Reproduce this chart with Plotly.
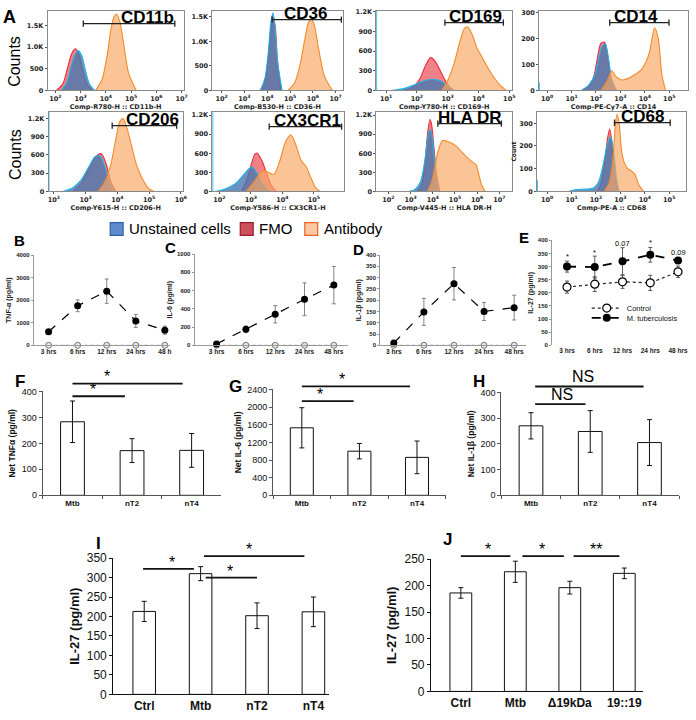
import plotly.graph_objects as go

W, H = 696, 720
ARIAL = "Arial, 'Liberation Sans', sans-serif"
DEJAVU = "'DejaVu Sans', sans-serif"

# ---------------- Panel A: flow cytometry histograms (x = log10 intensity, y = counts) ----------------
cd11b_fmo_x = [2.05, 2.3, 2.5, 2.65, 2.8, 2.95, 3.1, 3.25, 3.45]
cd11b_fmo_y = [0, 150, 550, 850, 960, 800, 450, 150, 0]
cd11b_unst_x = [2.25, 2.45, 2.65, 2.8, 2.92, 3.05, 3.2, 3.35, 3.55]
cd11b_unst_y = [0, 180, 600, 850, 920, 800, 450, 150, 0]
cd11b_ab_x = [3.6, 3.85, 4.05, 4.2, 4.32, 4.42, 4.55, 4.7, 4.9, 5.2]
cd11b_ab_y = [0, 250, 800, 1400, 1700, 1770, 1600, 1100, 400, 0]

cd36_fmo_x = [3.7, 3.9, 4.05, 4.15, 4.25, 4.35, 4.45, 4.6]
cd36_fmo_y = [0, 200, 700, 1200, 1500, 1300, 600, 0]
cd36_unst_x = [3.7, 3.9, 4.05, 4.15, 4.25, 4.33, 4.45, 4.65]
cd36_unst_y = [0, 250, 800, 1350, 1580, 1350, 600, 0]
cd36_ab_x = [4.9, 5.2, 5.45, 5.65, 5.8, 5.92, 6.05, 6.25, 6.5, 6.85]
cd36_ab_y = [0, 150, 550, 1050, 1380, 1450, 1350, 850, 300, 0]

cd169_fmo_x = [1.6, 1.9, 2.1, 2.3, 2.45, 2.6, 2.8, 3.0, 3.2]
cd169_fmo_y = [0, 60, 180, 400, 500, 440, 260, 90, 0]
cd169_unst_x = [1.2, 1.6, 1.9, 2.2, 2.5, 2.8, 3.0, 3.2]
cd169_unst_y = [0, 30, 80, 140, 170, 140, 70, 0]
cd169_ab_x = [2.8, 3.0, 3.2, 3.4, 3.55, 3.65, 3.8, 3.95, 4.1, 4.3, 4.5, 4.7, 4.9]
cd169_ab_y = [0, 150, 400, 750, 950, 970, 850, 650, 520, 350, 200, 80, 0]
cd169_unst_edge = 1215

cd14_fmo_x = [1.45, 1.7, 1.9, 2.05, 2.2, 2.35, 2.5, 2.65, 2.8]
cd14_fmo_y = [0, 15, 50, 120, 180, 185, 120, 30, 0]
cd14_unst_x = [1.4, 1.7, 1.95, 2.1, 2.25, 2.38, 2.5, 2.65, 2.85]
cd14_unst_y = [0, 20, 60, 120, 170, 180, 130, 40, 0]
cd14_ab_x = [2.2, 2.45, 2.65, 2.8, 3.05, 3.3, 3.58, 3.86, 4.05, 4.2, 4.4, 4.55, 4.7, 4.85]
cd14_ab_y = [0, 35, 75, 55, 40, 45, 60, 80, 110, 150, 240, 200, 60, 0]
cd14_unst_edge = 30

cd206_fmo_x = [2.6, 2.85, 3.1, 3.3, 3.5, 3.65, 3.8, 3.95]
cd206_fmo_y = [0, 120, 360, 560, 620, 450, 150, 0]
cd206_unst_x = [2.3, 2.6, 2.85, 3.1, 3.3, 3.45, 3.6, 3.75, 3.9]
cd206_unst_y = [0, 60, 180, 400, 570, 590, 420, 150, 0]
cd206_ab_x = [3.4, 3.6, 3.8, 3.95, 4.08, 4.18, 4.3, 4.45, 4.6, 4.8, 5.0, 5.15]
cd206_ab_y = [0, 150, 450, 850, 1150, 1200, 1050, 750, 450, 200, 40, 0]
cd206_unst_edge = 1310

cx3cr1_fmo_x = [2.7, 2.85, 3.0, 3.12, 3.2, 3.35, 3.5, 3.65, 3.8]
cx3cr1_fmo_y = [0, 150, 400, 580, 600, 480, 280, 90, 0]
cx3cr1_unst_x = [1.9, 2.2, 2.5, 2.75, 2.95, 3.05, 3.2, 3.4, 3.6]
cx3cr1_unst_y = [0, 40, 120, 250, 360, 380, 280, 100, 0]
cx3cr1_ab_x = [2.85, 3.1, 3.3, 3.42, 3.55, 3.73, 3.9, 4.1, 4.27, 4.45, 4.6, 4.74, 4.9, 5.05, 5.2]
cx3cr1_ab_y = [0, 150, 290, 330, 300, 270, 450, 780, 890, 700, 480, 400, 220, 60, 0]
cx3cr1_unst_edge = 1250

hladr_fmo_x = [3.3, 3.5, 3.65, 3.78, 3.88, 3.95, 4.05, 4.18, 4.32]
hladr_fmo_y = [0, 100, 450, 950, 1130, 1050, 700, 250, 0]
hladr_unst_x = [2.95, 3.2, 3.45, 3.65, 3.8, 3.9, 4.0, 4.12, 4.25]
hladr_unst_y = [0, 30, 150, 500, 900, 970, 800, 300, 0]
hladr_ab_x = [3.75, 3.95, 4.1, 4.25, 4.45, 4.7, 5.03, 5.3, 5.5, 5.75, 5.95, 6.05, 6.2, 6.35]
hladr_ab_y = [0, 150, 400, 650, 800, 780, 720, 620, 550, 470, 420, 300, 100, 0]

cd68_fmo_x = [2.05, 2.2, 2.35, 2.47, 2.56, 2.65, 2.78, 2.92]
cd68_fmo_y = [0, 30, 120, 230, 275, 220, 80, 0]
cd68_unst_x = [0.9, 1.2, 1.6, 1.9, 2.1, 2.3, 2.45, 2.6, 2.72, 2.85, 2.95]
cd68_unst_y = [0, 8, 10, 15, 40, 120, 200, 240, 180, 50, 0]
cd68_ab_x = [2.35, 2.55, 2.7, 2.8, 2.87, 2.95, 3.05, 3.15, 3.3, 3.45, 3.6, 3.75, 3.95]
cd68_ab_y = [0, 40, 150, 300, 340, 300, 180, 130, 100, 90, 75, 30, 0]
cd68_unst_edge = 50

# ---------------- Panels B-E: time course ----------------
times = ["3 hrs", "6 hrs", "12 hrs", "24 hrs", "48 hrs"]
times_b = ["3 hrs", "6 hrs", "12 hrs", "24 hrs", "48 h"]
tnf_mtb = [600, 1750, 2400, 1080, 670]
tnf_err = [0, 260, 540, 290, 180]
il6_mtb = [15, 175, 340, 505, 660]
il6_err = [0, 35, 95, 180, 205]
il1b_mtb = [10, 148, 273, 150, 167]
il1b_err = [0, 60, 72, 40, 55]
ctrl_zero = [0, 0, 0, 0, 0]
il27_mtb = [300, 298, 320, 345, 323]
il27_mtb_err = [21, 42, 52, 28, 7]
il27_ctrl = [222, 233, 242, 238, 280]
il27_ctrl_err = [23, 28, 25, 29, 22]
e_marks = ["*", "*", "0.07", "*", "0.09"]
e_mark_vals = [337, 352, 389, 393, 352]

# ---------------- Panels F-H ----------------
fh_cats = ["Mtb", "nT2", "nT4"]
tnf_net = [283, 172, 173]
tnf_net_err = [80, 46, 65]
il6_net = [1530, 1000, 860]
il6_net_err = [455, 175, 370]
il1b_net = [270, 248, 205]
il1b_net_err = [51, 81, 89]

# ---------------- Panels I-J ----------------
i_cats = ["Ctrl", "Mtb", "nT2", "nT4"]
il27_i = [213, 310, 202, 212]
il27_i_err = [26, 18, 33, 38]
j_cats = ["Ctrl", "Mtb", "\u039419kDa", "19::19"]
il27_j = [186, 226, 196, 223]
il27_j_err = [10, 20, 12, 10]

# ---------------- styling ----------------
UNST_LINE, UNST_FILL = "#1fb4e6", "rgba(70,120,175,0.80)"
FMO_LINE, FMO_FILL = "#ee2a35", "rgba(236,80,90,0.72)"
AB_LINE, AB_FILL = "#f38a2a", "rgba(248,168,100,0.68)"


def X(p):
    return p / W


def Y(p):
    return 1 - p / H


fig = go.Figure()
layout = {}
shapes = []
annots = []
_n = [0]


def new_axes(xpx, ypx, xkw, ykw):
    _n[0] += 1
    n = _n[0]
    s = "" if n == 1 else str(n)
    layout["xaxis" + s] = dict(domain=[X(xpx[0]), X(xpx[1])], anchor="y" + s,
                               showgrid=False, zeroline=False, **xkw)
    layout["yaxis" + s] = dict(domain=[Y(ypx[1]), Y(ypx[0])], anchor="x" + s,
                               showgrid=False, zeroline=False, **ykw)
    return "x" + s, "y" + s


def txt(x, y, text, size, bold=False, family=ARIAL, xref="paper", yref="paper",
        xanchor="center", yanchor="middle", textangle=0, color="black"):
    annots.append(dict(x=x, y=y, xref=xref, yref=yref, text=text, showarrow=False,
                       xanchor=xanchor, yanchor=yanchor, textangle=textangle,
                       font=dict(family=family, size=size, color=color,
                                 weight="bold" if bold else "normal")))


def hist_panel(xpx, ypx, xr, yr, xt, yt, ytt, xtitle, fmo, unst, ab, gate, gy, label, lx,
               edge=None, ytitle=None):
    tf = dict(family=DEJAVU, size=6.5, color="#222", weight="bold")
    xa, ya = new_axes(
        xpx, ypx,
        dict(range=xr, tickvals=xt, ticktext=["10<sup>%d</sup>" % t for t in xt],
             showline=True, linecolor="#8a8a8a", mirror=True, ticks="outside", ticklen=2,
             tickcolor="#555", tickfont=tf,
             title=dict(text=xtitle, font=dict(family=DEJAVU, size=6.5, color="#222", weight="bold"),
                        standoff=0)),
        dict(range=yr, tickvals=yt, ticktext=ytt, showline=True, linecolor="#8a8a8a", mirror=True,
             ticks="outside", ticklen=2, tickcolor="#555", tickfont=tf,
             title=dict(text=ytitle or "", font=dict(family=DEJAVU, size=6, color="#222", weight="bold"),
                        standoff=2)))
    for (xs, ys, lc, fc) in [(fmo[0], fmo[1], FMO_LINE, FMO_FILL),
                             (unst[0], unst[1], UNST_LINE, UNST_FILL),
                             (ab[0], ab[1], AB_LINE, AB_FILL)]:
        fig.add_trace(go.Scatter(x=xs, y=ys, xaxis=xa, yaxis=ya, mode="lines",
                                 line=dict(color=lc, width=1.1, shape="spline", smoothing=0.8),
                                 fill="tozeroy", fillcolor=fc, showlegend=False, hoverinfo="skip"))
    if edge is not None:
        fig.add_trace(go.Scatter(x=[xr[0], xr[0]], y=[0, edge], xaxis=xa, yaxis=ya, mode="lines",
                                 line=dict(color=UNST_LINE, width=1.6), showlegend=False,
                                 hoverinfo="skip"))
    yd = ya + " domain"
    shapes.append(dict(type="line", xref=xa, yref=yd, x0=gate[0], x1=gate[1], y0=gy, y1=gy,
                       line=dict(color="#222", width=1.3)))
    for gx in gate:
        shapes.append(dict(type="line", xref=xa, yref=yd, x0=gx, x1=gx, y0=gy - 0.04, y1=gy + 0.04,
                           line=dict(color="#222", width=1.3)))
    annots.append(dict(x=lx, y=gy - 0.05, xref=xa, yref=yd, text=label, showarrow=False,
                       xanchor="center", yanchor="bottom", borderpad=0,
                       font=dict(family=ARIAL, size=17, color="black", weight="bold")))


# ---- Panel A ----
row1, row2 = (4, 85), (107, 188)
t15 = ([0, 500, 1000, 1500], ["0", "500", "1.0K", "1.5K"])
t12 = ([0, 300, 600, 900, 1200], ["0", "300", "600", "900", "1.2K"])
t300 = ([0, 100, 200, 300], ["0", "100", "200", "300"])

hist_panel((47, 184), row1, [1.7, 7.08], [0, 1840], [2, 3, 4, 5, 6, 7], *t15,
           "Comp-R780-H :: CD11b-H", (cd11b_fmo_x, cd11b_fmo_y), (cd11b_unst_x, cd11b_unst_y),
           (cd11b_ab_x, cd11b_ab_y), (3.11, 6.73), 0.84, "CD11b", 5.63)
hist_panel((213, 344), row1, [1.6, 7.3], [0, 1620], [2, 3, 4, 5, 6, 7], *t15,
           "Comp-B530-H :: CD36-H", (cd36_fmo_x, cd36_fmo_y), (cd36_unst_x, cd36_unst_y),
           (cd36_ab_x, cd36_ab_y), (4.21, 7.25), 0.89, "CD36", 5.69)
hist_panel((378, 515), row1, [0.68, 5.1], [0, 1215], [1, 2, 3, 4, 5], *t12,
           "Comp-Y780-H :: CD169-H", (cd169_fmo_x, cd169_fmo_y), (cd169_unst_x, cd169_unst_y),
           (cd169_ab_x, cd169_ab_y), (2.91, 4.81), 0.852, "CD169", 3.91, edge=cd169_unst_edge)
hist_panel((542, 692), row1, [-0.33, 5.77], [0, 305], [0, 1, 2, 3, 4, 5], *t300,
           "Comp-PE-Cy7-A :: CD14", (cd14_fmo_x, cd14_fmo_y), (cd14_unst_x, cd14_unst_y),
           (cd14_ab_x, cd14_ab_y), (2.56, 4.99), 0.852, "CD14", 3.65, edge=cd14_unst_edge)
hist_panel((48, 183), row2, [1.84, 6.06], [0, 1310], [2, 3, 4, 5, 6], *t12,
           "Comp-Y615-H :: CD206-H", (cd206_fmo_x, cd206_fmo_y), (cd206_unst_x, cd206_unst_y),
           (cd206_ab_x, cd206_ab_y), (3.84, 5.87), 0.827, "CD206", 5.12, edge=cd206_unst_edge)
hist_panel((213, 345), row2, [1.78, 5.94], [0, 1250], [2, 3, 4, 5, 6], *t12,
           "Comp-Y586-H :: CX3CR1-H", (cx3cr1_fmo_x, cx3cr1_fmo_y), (cx3cr1_unst_x, cx3cr1_unst_y),
           (cx3cr1_ab_x, cx3cr1_ab_y), (3.58, 5.88), 0.815, "CX3CR1", 4.81, edge=cx3cr1_unst_edge)
hist_panel((378, 515), row2, [1.46, 7.58], [0, 1250], [2, 3, 4, 5, 6, 7], *t12,
           "Comp-V445-H :: HLA DR-H", (hladr_fmo_x, hladr_fmo_y), (hladr_unst_x, hladr_unst_y),
           (hladr_ab_x, hladr_ab_y), (4.23, 7.09), 0.852, "HLA DR", 5.66)
hist_panel((540, 690), row2, [-0.41, 5.69], [0, 350], [0, 1, 2, 3, 4, 5], *t300,
           "Comp-PE-A :: CD68", (cd68_fmo_x, cd68_fmo_y), (cd68_unst_x, cd68_unst_y),
           (cd68_ab_x, cd68_ab_y), (2.76, 5.04), 0.864, "CD68", 3.9, edge=cd68_unst_edge,
           ytitle="Count")

txt(X(9), Y(10), "A", 18, bold=True)
txt(X(14), Y(55), "Counts", 16, textangle=-90)
txt(X(14), Y(150), "Counts", 16, textangle=-90)

# legend of panel A
for (x0, fillc, linec, label) in [(110, "rgb(95,140,205)", "rgb(45,95,170)", "Unstained cells"),
                                  (241, "rgb(205,80,90)", "rgb(150,30,45)", "FMO"),
                                  (306, "rgb(252,200,160)", "rgb(235,95,35)", "Antibody")]:
    shapes.append(dict(type="rect", xref="paper", yref="paper", x0=X(x0), x1=X(x0 + 13),
                       y0=Y(233), y1=Y(220), fillcolor=fillc, line=dict(color=linec, width=1.2)))
    txt(X(x0 + 17), Y(226), label, 15, xanchor="left")


# ---- Panels B-E ----
def line_panel(xpx, ypx, cats, xr, yr, dtick, ytitle, mtb, mtb_err, ctrl, ctrl_err,
               showxline=True, e_style=False):
    xa, ya = new_axes(
        xpx, ypx,
        dict(type="category", categoryorder="array", categoryarray=cats, range=xr,
             showline=showxline, linecolor="#999", ticks="",
             tickfont=dict(family=ARIAL, size=6.5, color="#222", weight="bold")),
        dict(range=yr, dtick=dtick, showline=True, linecolor="#999", ticks="outside", ticklen=2,
             tickcolor="#999", tickfont=dict(family=ARIAL, size=6, color="#222", weight="bold"),
             title=dict(text=ytitle, font=dict(family=ARIAL, size=7, color="#222", weight="bold"),
                        standoff=3)))
    if e_style:
        c_marker = dict(symbol="circle", size=8, color="white", line=dict(color="black", width=1.2))
        c_line = dict(color="#222", width=1.2, dash="dot")
        m_line = dict(color="black", width=1.8, dash="dash")
        m_size = 8
        err_col = "#333"
    else:
        c_marker = dict(symbol="circle", size=6, color="#e6e6e6", line=dict(color="#777", width=1))
        c_line = dict(color="#888", width=1, dash="dot")
        m_line = dict(color="black", width=1.2, dash="dash")
        m_size = 7
        err_col = "#666"
    fig.add_trace(go.Scatter(x=cats, y=ctrl, xaxis=xa, yaxis=ya, mode="lines+markers",
                             line=c_line, marker=c_marker, cliponaxis=False, name="Control",
                             showlegend=e_style, legend="legend2",
                             error_y=dict(type="data", array=ctrl_err, color=err_col, thickness=0.8,
                                          width=2, visible=e_style)))
    fig.add_trace(go.Scatter(x=cats, y=mtb, xaxis=xa, yaxis=ya, mode="lines+markers",
                             line=m_line, marker=dict(symbol="circle", size=m_size, color="black"),
                             cliponaxis=False, name="M. tuberculosis", showlegend=e_style,
                             legend="legend3",
                             error_y=dict(type="data", array=mtb_err, color=err_col, thickness=0.8,
                                          width=2)))
    return xa, ya


line_panel((33, 170), (253, 345), times_b, [-0.51, 4.17], [0, 4000], 1000, "TNF-\u03b1 (pg/ml)",
           tnf_mtb, tnf_err, ctrl_zero, ctrl_zero)
line_panel((195, 350), (252, 345), times, [-0.75, 4.5], [0, 1000], 200, "IL-6 (pg/ml)",
           il6_mtb, il6_err, ctrl_zero, ctrl_zero)
line_panel((382, 529), (253, 345), times, [-0.45, 4.4], [0, 400], 50, "IL-1\u03b2 (pg/ml)",
           il1b_mtb, il1b_err, ctrl_zero, ctrl_zero)
exa, eya = line_panel((555, 692), (238, 345), times, [-0.54, 4.36], [0, 400], 50, "IL-27 (pg/ml)",
                      il27_mtb, il27_mtb_err, il27_ctrl, il27_ctrl_err, showxline=False, e_style=True)
for i, (m, v) in enumerate(zip(e_marks, e_mark_vals)):
    txt(i, v, m, 7.5, xref=exa, yref=eya)

txt(X(19), Y(238), "B", 15, bold=True)
txt(X(171), Y(245), "C", 15, bold=True)
txt(X(360), Y(247), "D", 15, bold=True)
txt(X(527), Y(235), "E", 15, bold=True)


# ---- bar panels ----
def bar_panel(xpx, ypx, cats, vals, errs, xr, yr, dtick, ytitle, tick_sz, cat_sz, title_sz,
              linec, boundaries):
    xa, ya = new_axes(
        xpx, ypx,
        dict(type="category", categoryorder="array", categoryarray=cats, range=xr, showline=True,
             linecolor=linec, ticks="outside" if boundaries else "", tickson="boundaries",
             ticklen=3, tickcolor=linec,
             tickfont=dict(family=ARIAL, size=cat_sz, color="#111", weight="bold")),
        dict(range=yr, dtick=dtick, showline=True, linecolor=linec, ticks="outside", ticklen=3,
             tickcolor=linec, tickfont=dict(family=ARIAL, size=tick_sz, color="#111"),
             title=dict(text=ytitle, font=dict(family=ARIAL, size=title_sz, color="#111",
                                               weight="bold"), standoff=4)))
    fig.add_trace(go.Bar(x=cats, y=vals, xaxis=xa, yaxis=ya, width=0.4,
                         marker=dict(color="white", line=dict(color="#111", width=1)),
                         error_y=dict(type="data", array=errs, color="#111", thickness=1, width=2.5),
                         showlegend=False, hoverinfo="skip"))
    return xa, ya


def sig(xa, ya, x0, x1, yd, label, lx, ly, size=16):
    shapes.append(dict(type="line", xref=xa, yref=ya + " domain", x0=x0, x1=x1, y0=yd, y1=yd,
                       line=dict(color="#111", width=1.8)))
    txt(lx, ly, label, size, xref=xa, yref=ya + " domain")


fxa, fya = bar_panel((42, 222), (392, 498), fh_cats, tnf_net, tnf_net_err, [-0.5, 2.5], [0, 400], 100,
                     "Net TNF\u03b1 (pg/ml)", 9, 8, 8.5, "#555", True)
sig(fxa, fya, 0, 1.85, 1.075, "*", 0.58, 1.14)
sig(fxa, fya, 0, 0.88, 0.953, "*", 0.35, 1.02)

gxa, gya = bar_panel((274, 448), (390, 498), fh_cats, il6_net, il6_net_err, [-0.5, 2.5], [0, 2400], 400,
                     "Net IL-6 (pg/ml)", 9, 8, 8.5, "#555", True)
sig(gxa, gya, 0, 1.88, 1.028, "*", 0.7, 1.09)
sig(gxa, gya, 0, 0.9, 0.889, "*", 0.31, 0.95)

hxa, hya = bar_panel((504, 683), (393, 498), fh_cats, il1b_net, il1b_net_err, [-0.5, 2.5], [0, 400], 100,
                     "Net IL-1\u03b2 (pg/ml)", 9, 8, 8.5, "#555", True)
sig(hxa, hya, 0.07, 1.9, 1.057, "NS", 0.87, 1.15)
sig(hxa, hya, 0.07, 0.92, 0.886, "NS", 0.53, 0.98)

txt(X(19), Y(382), "F", 17, bold=True)
txt(X(236), Y(387), "G", 17, bold=True)
txt(X(481), Y(382), "H", 17, bold=True)

ixa, iya = bar_panel((113, 330), (562, 701), i_cats, il27_i, il27_i_err, [-0.55, 3.27], [0, 350], 50,
                     "IL-27 (pg/ml)", 12, 12, 13, "#111", False)
sig(ixa, iya, -0.02, 0.88, 0.921, "*", 0.49, 0.965)
sig(ixa, iya, 1.09, 2.0, 0.857, "*", 1.53, 0.9)
sig(ixa, iya, 1.06, 2.84, 1.014, "*", 1.85, 1.06)

jxa, jya = bar_panel((433, 647), (563, 698), j_cats, il27_j, il27_j_err, [-0.55, 3.35], [0, 250], 50,
                     "IL-27 (pg/ml)", 12, 12, 13, "#111", False)
sig(jxa, jya, 0, 0.91, 1.022, "*", 0.49, 1.07)
sig(jxa, jya, 1.13, 1.89, 1.022, "*", 1.49, 1.07)
sig(jxa, jya, 2.07, 2.91, 1.022, "**", 2.49, 1.07)

txt(X(98), Y(547), "I", 17, bold=True)
txt(X(450), Y(543), "J", 17, bold=True)

leg_common = dict(xanchor="left", yanchor="middle", bgcolor="rgba(0,0,0,0)",
                  font=dict(family=ARIAL, size=7.5, color="#111"), itemwidth=30, tracegroupgap=0)
layout.update(dict(
    width=W, height=H, margin=dict(l=0, r=0, t=0, b=0),
    paper_bgcolor="white", plot_bgcolor="white",
    font=dict(family=ARIAL, color="#111"),
    showlegend=True, bargap=0.5,
    legend2=dict(x=X(590), y=Y(307), **leg_common),
    legend3=dict(x=X(590), y=Y(317), **leg_common),
    shapes=shapes, annotations=annots,
))
fig.update_layout(**layout)
fig.write_html("out.html", config={"displayModeBar": False, "staticPlot": True},
               post_script="document.body.style.margin='0';document.body.style.overflow='hidden';")
